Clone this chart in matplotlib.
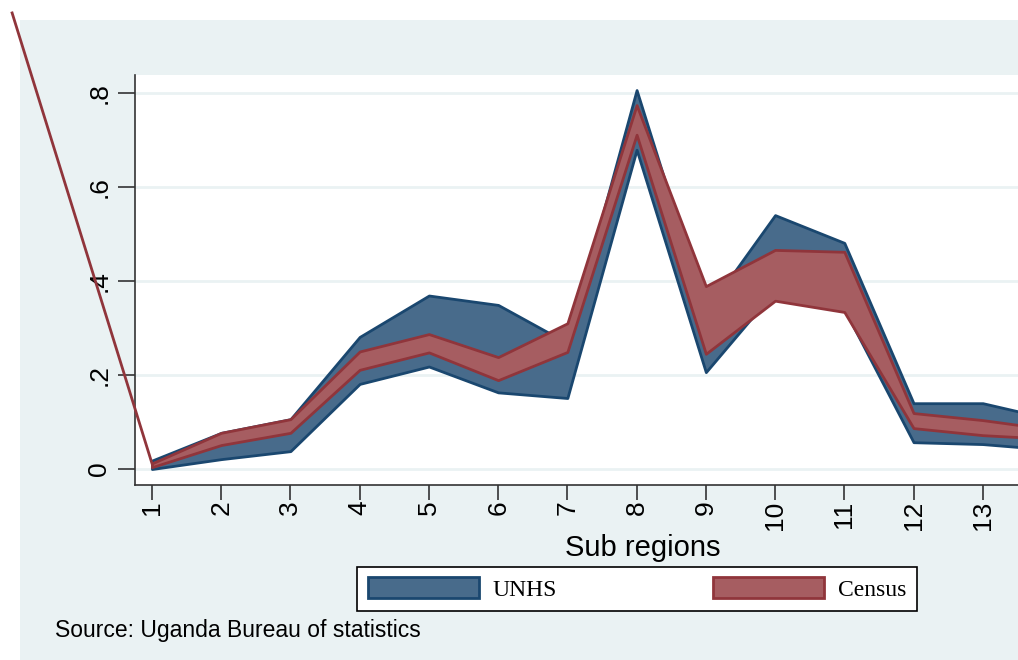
import numpy as np
import matplotlib
matplotlib.use('Agg')
import matplotlib.pyplot as plt
from matplotlib.patches import Patch, Rectangle

# sub regions (the 14th runs off the right edge of the picture)
regions = [1, 2, 3, 4, 5, 6, 7, 8, 9, 10, 11, 12, 13, 14]
unhs_lo = [0.000, 0.021, 0.038, 0.181, 0.218, 0.163, 0.151, 0.679, 0.206, 0.380, 0.340, 0.057, 0.053, 0.041]
unhs_hi = [0.018, 0.077, 0.106, 0.281, 0.369, 0.349, 0.268, 0.806, 0.335, 0.540, 0.481, 0.140, 0.140, 0.106]
census_lo = [0.004, 0.051, 0.077, 0.211, 0.248, 0.189, 0.249, 0.711, 0.245, 0.358, 0.334, 0.087, 0.072, 0.064]
census_hi = [0.012, 0.077, 0.106, 0.250, 0.287, 0.238, 0.310, 0.774, 0.389, 0.466, 0.462, 0.119, 0.104, 0.084]
# stray census segment coming in from the top left
stray_x = [-1.02, 1]
stray_y = [0.97, census_hi[0]]

xticks = regions[:13]
yticks = [0, 0.2, 0.4, 0.6, 0.8]
ytick_labels = ['0', '.2', '.4', '.6', '.8']

blue_fill = '#486b8b'
blue_edge = '#1a476f'
red_fill = '#a65d61'
red_edge = '#90353b'
panel = '#eaf2f3'

plt.rcParams['font.family'] = ['Liberation Sans', 'DejaVu Sans']

fig = plt.figure(figsize=(10.18, 6.6), dpi=100)
fig.patches.append(Rectangle((20 / 1018, 0), 1, 1 - 20 / 660, transform=fig.transFigure,
                             facecolor=panel, edgecolor='none', zorder=-10))

# plot region is wider than the picture: its right part is cut off
ax = fig.add_axes([135 / 1018, 1 - 485 / 660, (1151 - 135) / 1018, (485 - 75) / 660])
ax.set_facecolor('white')

ax.fill_between(regions, unhs_lo, unhs_hi, facecolor=blue_fill, edgecolor=blue_edge,
                linewidth=2.0, zorder=2)
ax.fill_between(regions, census_lo, census_hi, facecolor=red_fill, edgecolor=red_edge,
                linewidth=2.0, zorder=3)
ax.plot(stray_x, stray_y, color=red_edge, linewidth=2.0, clip_on=False, zorder=4)

ax.set_xlim(0.755, 15.43)
ax.set_ylim(-0.034, 0.838)
ax.set_xticks(xticks)
ax.set_xticklabels([str(r) for r in xticks], rotation=90, fontsize=19)
ax.set_yticks(yticks)
ax.set_yticklabels(ytick_labels, rotation=90, fontsize=19, va='center')
ax.tick_params(axis='x', length=11, width=1.2, color='#333333', pad=0)
ax.tick_params(axis='y', length=12, width=1.2, color='#333333', pad=5)
ax.yaxis.grid(True, color=panel, linewidth=2.0)
ax.set_axisbelow(True)
for s in ['top', 'right']:
    ax.spines[s].set_visible(False)
for s in ['left', 'bottom']:
    ax.spines[s].set_linewidth(1.2)
    ax.spines[s].set_color('#333333')

ax.set_xlabel('Sub regions', fontsize=21, labelpad=3)

handles = [Patch(facecolor=blue_fill, edgecolor=blue_edge, linewidth=2, label='UNHS'),
           Patch(facecolor=red_fill, edgecolor=red_edge, linewidth=2, label='Census')]
leg = fig.legend(handles=handles, loc='center', bbox_to_anchor=(637 / 1018, 1 - 589 / 660),
                 ncol=2, prop={'family': 'Liberation Serif', 'size': 17},
                 handlelength=4.7, handleheight=1.0, handletextpad=0.6, columnspacing=6.6,
                 fancybox=False, framealpha=1, edgecolor='black', borderpad=0.45,
                 borderaxespad=0)
leg.get_frame().set_linewidth(1.2)

fig.text(55 / 1018, 1 - 630 / 660, 'Source: Uganda Bureau of statistics', fontsize=16.5,
         va='center', ha='left')

fig.savefig('out.png', dpi=100, facecolor='white')
